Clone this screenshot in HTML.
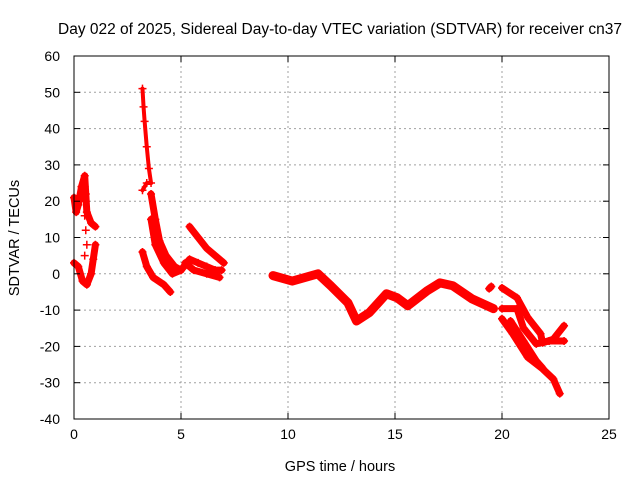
<!DOCTYPE html>
<html><head><meta charset="utf-8"><style>
body{margin:0;background:#fff}
svg{display:block;font-family:"Liberation Sans",sans-serif}
</style></head><body>
<svg id="c" width="640" height="480" xmlns="http://www.w3.org/2000/svg"></svg>
<script>
const xTicks=[0,5,10,15,20,25];
const yTicks=[-40,-30,-20,-10,0,10,20,30,40,50,60];
const trackA=[[0,21],[0.1,17],[0.2,19],[0.35,24],[0.5,27],[0.55,22],[0.6,17],[0.8,14],[1.0,13]];
const trackB=[[0,3],[0.2,2],[0.4,-2],[0.6,-3],[0.8,0],[0.9,4],[1.0,8]];
const trackBs=[[0.5,24],[0.55,20],[0.5,16],[0.55,12],[0.6,8],[0.5,5]];
const trackC=[[3.2,51],[3.25,46],[3.3,42],[3.4,35],[3.5,29],[3.6,25],[3.4,25],[3.2,23]];
const trackC2=[[3.6,22],[3.8,15],[4.0,9],[4.3,5],[4.7,2],[5.0,1]];
const trackC3=[[3.6,15],[3.8,8],[4.2,3],[4.6,0],[5.0,1]];
const trackD=[[3.2,6],[3.4,2],[3.7,-1],[4.2,-3],[4.5,-5]];
const trackE=[[5.4,13],[5.8,10],[6.2,7],[6.6,5],[7.0,3]];
const trackF=[[5.0,1],[5.4,4],[5.8,3],[6.2,2],[6.6,1],[6.9,1]];
const trackG=[[5.2,3],[5.6,1],[6.2,0],[6.8,-1]];
const trackMid=[[9.3,-0.5],[10.2,-2],[11.4,0],[12.0,-3.3],[12.8,-8],[13.2,-13],[13.8,-10.7],[14.6,-5.5],[15.1,-6.6],[15.6,-8.8],[16.5,-4.7],[17.1,-2.5],[17.7,-3.3],[18.6,-6.9],[19.6,-9.6]];
const trackDot=[[19.4,-4.1],[19.5,-3.5]];
const trackT1=[[20.0,-3.9],[20.7,-6.6],[21.2,-12],[21.8,-16.5],[21.9,-19],[22.4,-18],[22.9,-14.3]];
const trackT2=[[20.0,-9.6],[20.7,-9.6],[21.0,-14.9],[21.6,-19.3],[22.2,-18.5],[22.9,-18.5]];
const trackT3=[[20.0,-12.4],[20.5,-16.5],[21.2,-23],[21.9,-26.2],[22.4,-29],[22.7,-33]];
const trackT4=[[20.4,-13],[21.0,-18.5],[21.6,-24],[21.9,-26]];
const tracks=[trackA,trackB,trackC,trackC2,trackC3,trackD,trackE,trackF,trackG,trackMid,trackDot,trackT1,trackT2,trackT3,trackT4];

const L=74,R=609,T=56,B=419;
const sx=v=>L+(v-0)/(25-0)*(R-L);
const sy=v=>B-(v+40)/(100)*(B-T);
const NS='http://www.w3.org/2000/svg';
const svg=document.getElementById('c');
function mk(t,a,p){const e=document.createElementNS(NS,t);for(const k in a)e.setAttribute(k,a[k]);(p||svg).appendChild(e);return e;}

const grid=mk('g',{});


xTicks.forEach(v=>{if(v>0&&v<25)mk('line',{x1:sx(v),x2:sx(v),y1:T,y2:B,stroke:'#a0a0a0','stroke-dasharray':'2,3'},grid);});
yTicks.forEach(v=>{if(v>-40&&v<60)mk('line',{x1:L,x2:R,y1:sy(v),y2:sy(v),stroke:'#a0a0a0','stroke-dasharray':'2,3'},grid);});

const data=mk('g',{});


tracks.forEach((tr,i)=>{
  const w=tr===trackC?4:(tr===trackMid?9:7);
  const pl=mk('polyline',{points:tr.map(p=>sx(p[0])+','+sy(p[1])).join(' '),fill:'none',stroke:'#ff0000','stroke-width':w,'stroke-linejoin':'round','stroke-linecap':'round'},data);
  
  
  tr.forEach(p=>{
    const x=sx(p[0]),y=sy(p[1]);
    const m=mk('path',{d:`M${x-4},${y}h8M${x},${y-4}v8`,stroke:'#ff0000','stroke-width':1.5},data);
    
    
  });
});
const bs=mk('g',{},data);
trackBs.forEach(p=>{const x=sx(p[0]),y=sy(p[1]);mk('path',{d:`M${x-4},${y}h8M${x},${y-4}v8`,stroke:'#ff0000','stroke-width':1.5},bs);});

const ax=mk('g',{});


mk('rect',{x:L,y:T,width:R-L,height:B-T,fill:'none',stroke:'#000'},ax);
xTicks.forEach(v=>{
  mk('line',{x1:sx(v),x2:sx(v),y1:B,y2:B-6,stroke:'#000'},ax);
  mk('line',{x1:sx(v),x2:sx(v),y1:T,y2:T+6,stroke:'#000'},ax);
  const t=mk('text',{x:sx(v),y:B+20,'text-anchor':'middle','font-size':14,fill:'#000'},ax);t.textContent=v;
  
  
});
yTicks.forEach(v=>{
  mk('line',{x1:L,x2:L+6,y1:sy(v),y2:sy(v),stroke:'#000'},ax);
  mk('line',{x1:R,x2:R-6,y1:sy(v),y2:sy(v),stroke:'#000'},ax);
  const t=mk('text',{x:L-14,y:sy(v)+5,'text-anchor':'end','font-size':14,fill:'#000'},ax);t.textContent=v;
  
  
});
const tt=mk('text',{x:340,y:34,'text-anchor':'middle','font-size':15.5},ax);
tt.textContent='Day 022 of 2025, Sidereal Day-to-day VTEC variation (SDTVAR) for receiver cn37';


const xl=mk('text',{x:340,y:471,'text-anchor':'middle','font-size':14.5},ax);
xl.textContent='GPS time / hours';


const yl=mk('text',{x:0,y:0,'text-anchor':'middle','font-size':14.5,transform:'translate(19,238) rotate(-90)'},ax);
yl.textContent='SDTVAR / TECUs';


</script>
</body></html>
